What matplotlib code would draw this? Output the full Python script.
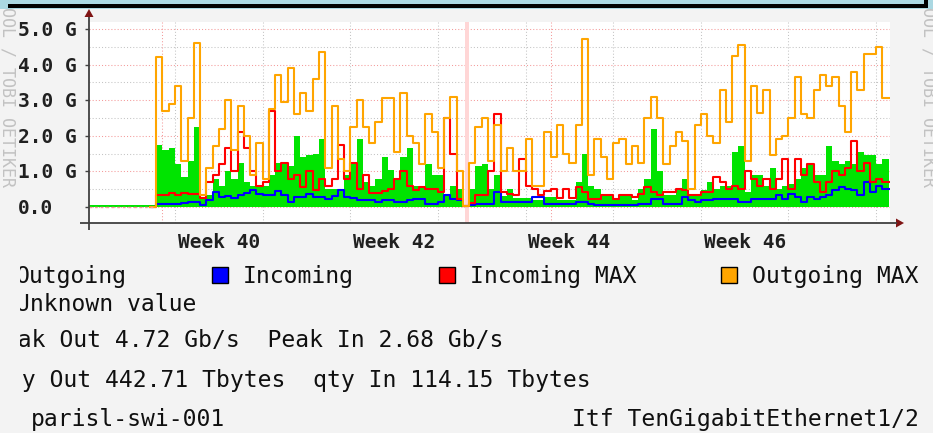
"""RRD-style traffic graph: paris1-swi-001, TenGigabitEthernet1/2."""

import matplotlib

matplotlib.use("Agg")
import matplotlib.pyplot as plt
import matplotlib.transforms as mtransforms
import numpy as np
from matplotlib.patches import Polygon, Rectangle

W_PX, H_PX = 933, 433
DPI = 100
BG = "#f3f3f3"
MONO = "DejaVu Sans Mono"
NA = np.nan

# time axis in days from the start of week 40, one sample every half day
start_day = -7.0
bin_days = 0.5

# values in Gb/s (NA = not drawn before the interface came up)
outgoing = [
    0.05, 0.05, 0.05, 0.05, 0.05, 0.05, 0.05, 0.05, 0.05, 0.05, 0.05,
    1.75, 1.6, 1.65, 1.2, 0.85, 1.3, 2.25, 0.25, 0.33, 0.8, 0.6, 1.0, 0.8, 1.25, 0.7, 0.6,
    0.6, 0.6, 0.9, 1.25, 1.25, 1.15, 2.0, 1.4, 1.45, 1.5, 1.9, 0.5, 0.5, 0.5, 0.9, 1.2, 1.9,
    0.7, 0.6, 0.8, 1.4, 1.05, 0.8, 1.4, 1.65, 0.6, 0.6, 1.2, 0.9, 0.9, 0.33, 0.6, 0.5, 0.02,
    0.5, 1.15, 1.2, 0.5, 0.9, 0.3, 0.5, 0.25, 0.25, 0.25, 0.2, 0.2, 0.28, 0.28, 0.2, 0.2, 0.2,
    0.7, 1.5, 0.6, 0.5, 0.33, 0.33, 0.23, 0.33, 0.33, 0.2, 0.5, 0.8, 2.2, 1.0, 0.33, 0.33, 0.5,
    0.8, 0.33, 0.33, 0.47, 0.7, 0.5, 0.6, 0.6, 1.55, 1.7, 0.42, 0.9, 0.9, 0.6, 1.1, 0.5, 0.6,
    0.65, 0.8, 1.1, 1.2, 0.9, 0.9, 1.7, 1.3, 1.2, 1.3, 1.2, 1.55, 1.45, 1.45, 1.2, 1.35,
]
incoming = [
    NA, NA, NA, NA, NA, NA, NA, NA, NA, NA, 0.0,
    0.09, 0.09, 0.09, 0.09, 0.12, 0.14, 0.14, 0.05, 0.19, 0.42, 0.28, 0.3, 0.25, 0.35, 0.38, 0.47,
    0.37, 0.33, 0.33, 0.45, 0.33, 0.14, 0.28, 0.28, 0.37, 0.28, 0.28, 0.23, 0.3, 0.47, 0.28, 0.25, 0.19,
    0.19, 0.19, 0.14, 0.19, 0.19, 0.14, 0.14, 0.19, 0.23, 0.23, 0.09, 0.09, 0.14, 0.33, 0.23, 0.19, 0.02,
    0.05, 0.09, 0.09, 0.09, 0.42, 0.14, 0.14, 0.14, 0.14, 0.14, 0.28, 0.28, 0.09, 0.09, 0.09, 0.09, 0.09,
    0.14, 0.14, 0.09, 0.07, 0.07, 0.07, 0.07, 0.07, 0.07, 0.05, 0.09, 0.09, 0.23, 0.23, 0.09, 0.09, 0.09,
    0.28, 0.2, 0.14, 0.19, 0.19, 0.23, 0.23, 0.23, 0.23, 0.14, 0.14, 0.23, 0.23, 0.23, 0.23, 0.33, 0.23,
    0.37, 0.28, 0.14, 0.28, 0.23, 0.28, 0.33, 0.47, 0.56, 0.52, 0.47, 0.33, 0.7, 0.42, 0.6, 0.52,
]
incoming_max = [
    NA, NA, NA, NA, NA, NA, NA, NA, NA, NA, 0.0,
    0.33, 0.33, 0.4, 0.33, 0.4, 0.37, 0.37, 0.25, 0.7, 0.9, 1.2, 1.65, 1.0, 2.1, 1.65, 1.0,
    0.6, 0.7, 2.7, 1.0, 1.25, 0.8, 0.9, 0.56, 1.0, 0.47, 0.8, 0.6, 0.8, 1.75, 0.8, 1.25, 0.5,
    0.9, 0.4, 0.4, 0.45, 0.5, 0.8, 1.0, 0.6, 0.47, 0.56, 0.52, 0.52, 0.42, 2.5, 1.5, 0.23, 0.02,
    0.1, 0.33, 0.33, 1.0, 2.6, 0.42, 0.37, 0.33, 1.35, 0.6, 0.5, 0.33, 0.45, 0.5, 0.25, 0.5, 0.25,
    0.56, 0.42, 0.23, 0.23, 0.33, 0.33, 0.23, 0.33, 0.33, 0.28, 0.37, 0.56, 0.42, 0.33, 0.42, 0.42, 0.5,
    0.47, 0.33, 0.33, 0.42, 0.42, 0.85, 0.7, 0.52, 0.6, 0.52, 1.0, 0.8, 0.6, 0.8, 0.5, 0.8, 1.35,
    0.52, 1.35, 0.9, 1.2, 0.7, 0.42, 0.7, 1.0, 0.9, 1.1, 1.85, 1.0, 1.25, 0.7, 0.8, 0.7,
]
outgoing_max = [
    NA, NA, NA, NA, NA, NA, NA, NA, NA, NA, 0.0,
    4.2, 2.7, 2.9, 3.4, 1.3, 2.5, 4.6, 0.35, 1.1, 1.7, 2.2, 3.0, 1.6, 2.85, 2.0, 0.9,
    1.8, 0.8, 2.75, 3.7, 2.95, 3.9, 2.6, 3.2, 2.7, 3.6, 4.35, 1.1, 2.85, 1.35, 1.0, 2.25, 3.0,
    2.25, 1.8, 2.4, 3.05, 3.05, 1.55, 3.2, 2.0, 1.8, 1.2, 2.6, 2.1, 1.1, 2.5, 3.1, 1.0, 0.03,
    1.25, 2.25, 2.5, 1.3, 2.3, 1.0, 1.65, 1.0, 1.0, 1.9, 0.6, 0.6, 2.1, 1.4, 2.3, 1.5, 1.25,
    2.3, 4.72, 0.9, 1.9, 1.4, 0.8, 1.8, 1.9, 1.2, 1.7, 1.25, 2.5, 3.1, 2.5, 1.2, 1.7, 2.1,
    1.85, 0.5, 2.3, 2.6, 2.0, 1.8, 3.3, 2.4, 4.25, 4.55, 1.3, 3.4, 2.65, 3.3, 1.45, 1.9, 2.0,
    2.5, 3.65, 2.6, 2.5, 3.3, 3.7, 3.4, 3.65, 2.85, 2.1, 3.8, 3.3, 4.3, 4.3, 4.5, 3.05,
]

unknown_span = (23.2, 23.45)

y_major = [0, 1, 2, 3, 4, 5]
y_minor = [0.5, 1.5, 2.5, 3.5, 4.5]
y_labels = ["0.0", "1.0 G", "2.0 G", "3.0 G", "4.0 G", "5.0 G"]
week_lines = [0, 7, 14, 21, 28, 35, 42, 49, 56]
month_lines = [-1, 30]
week_label_pos = [3.5, 17.5, 31.5, 45.5]
week_labels = ["Week 40", "Week 42", "Week 44", "Week 46"]

legend_items = [("Incoming", "#0000ff", 212, 243),
                ("Incoming MAX", "#ff0000", 439, 470),
                ("Outgoing MAX", "#ffa500", 721, 752)]

GREEN, BLUE, RED, ORANGE = "#00e400", "#0000ff", "#ff0000", "#ffa500"

fig = plt.figure(figsize=(W_PX / DPI, H_PX / DPI), dpi=DPI, facecolor=BG)

# plot canvas: x 89..890 px, y 22..223 px
L, R, T, B = 89, 890, 22, 223
ax = fig.add_axes([L / W_PX, 1 - B / H_PX, (R - L) / W_PX, (B - T) / H_PX])
ax.set_facecolor("white")
ax.set_xlim(-6.87, 57.11)
ax.set_ylim(-0.449, 5.197)
for s in ax.spines.values():
    s.set_visible(False)
ax.set_xticks([])
ax.set_yticks(y_major, labels=[])
ax.tick_params(axis="y", length=3, width=1, color="#404040", direction="out")

dot = (0, (1, 2))
for v in y_minor:
    ax.axhline(v, color="#c4c4c4", lw=0.75, ls=dot, zorder=0.5)
for v in y_major:
    ax.axhline(v, color="#f49a9a", lw=0.75, ls=dot, zorder=0.6)
for d in week_lines:
    ax.axvline(d, color="#c4c4c4", lw=0.75, ls=dot, zorder=0.5)
for d in month_lines:
    ax.axvline(d, color="#f49a9a", lw=0.75, ls=dot, zorder=0.6)
ax.axvspan(*unknown_span, color="#ffd6d6", lw=0, zorder=0.7)

n = len(outgoing)
edges = start_day + bin_days * np.arange(n + 1)


def ext(vals):
    return np.append(vals, vals[-1])


ax.fill_between(edges, ext(outgoing), step="post", color=GREEN, lw=0, zorder=1)
ax.step(edges, ext(incoming), where="post", color=BLUE, lw=1.5, zorder=2)
ax.step(edges, ext(incoming_max), where="post", color=RED, lw=1.5, zorder=3)
ax.step(edges, ext(outgoing_max), where="post", color=ORANGE, lw=1.5, zorder=4)
ax.axhline(0, xmax=(-1.5 - ax.get_xlim()[0]) / (ax.get_xlim()[1] - ax.get_xlim()[0]),
           color="#f49a9a", lw=1.0, ls=(0, (2, 2)), zorder=5)

# y labels, left aligned at x=18 px
xa = (18 - L) / (R - L)
ytr = mtransforms.offset_copy(ax.get_yaxis_transform(), fig=fig, x=0, y=-7, units="dots")
for v, lab in zip(y_major, y_labels):
    ax.text(xa, v, lab, transform=ytr, ha="left", va="baseline", fontsize=14,
            family=MONO, fontweight="bold", color="#202020", clip_on=False)

xtr = mtransforms.offset_copy(ax.get_xaxis_transform(), fig=fig, x=0, y=-25, units="dots")
for d, lab in zip(week_label_pos, week_labels):
    ax.text(d, 0, lab, transform=xtr, ha="center", va="baseline", fontsize=14,
            family=MONO, fontweight="bold", color="#202020", clip_on=False)

# overlay in pixel coordinates
ov = fig.add_axes([0, 0, 1, 1])
ov.set_xlim(0, W_PX)
ov.set_ylim(H_PX, 0)
ov.axis("off")

# watermark, both sides (its start runs under the top frame)
for wx in (7.5, 928.5):
    ov.text(wx, 187, "RRDTOOL / TOBI OETIKER", rotation=270, ha="center", va="bottom",
            fontsize=12, family=MONO, color="#c2c2c2", zorder=0)

# top frame
ov.add_patch(Rectangle((0, 0), W_PX, 9, color="#abd8e2", lw=0, zorder=1))
ov.add_patch(Rectangle((8, 3.5), 920, 4.5, color="black", lw=0, zorder=1))
ov.add_patch(Rectangle((924, 0), 4, 8, color="black", lw=0, zorder=1))

# axes with arrows
AX_C, AR_C = "#404040", "#7f1414"
ov.plot([80, 897], [223, 223], color=AX_C, lw=1.3, solid_capstyle="butt")
ov.add_patch(Polygon([(896, 218.5), (904, 223), (896, 227.5)], closed=True, color=AR_C, lw=0))
ov.plot([89, 89], [230, 17], color=AX_C, lw=1.3, solid_capstyle="butt")
ov.add_patch(Polygon([(84.5, 17), (89, 9), (93.5, 17)], closed=True, color=AR_C, lw=0))

# legend and comments
txt = dict(fontsize=16.6, family=MONO, color="#101010", va="baseline")
ov.text(16, 283, "Outgoing", **txt)
for label, col, bx, tx in legend_items:
    ov.add_patch(Rectangle((bx, 267), 16, 16, facecolor=col, edgecolor="black", lw=1))
    ov.text(tx, 283, label, **txt)
ov.text(16, 311, "Unknown value", **txt)
ov.text(-10, 347, "Peak Out 4.72 Gb/s  Peak In 2.68 Gb/s", **txt)
ov.text(-6, 387, "qty Out 442.71 Tbytes  qty In 114.15 Tbytes", **txt)
ov.text(31, 426, "parisl-swi-001", **txt)
ov.text(919, 426, "Itf TenGigabitEthernet1/2", ha="right", **txt)

# crop edge of the original image cuts the legend column
ov.add_patch(Rectangle((0, 255), 20, 180, color=BG, lw=0, zorder=5))

fig.savefig("out.png", dpi=DPI, facecolor=BG)
